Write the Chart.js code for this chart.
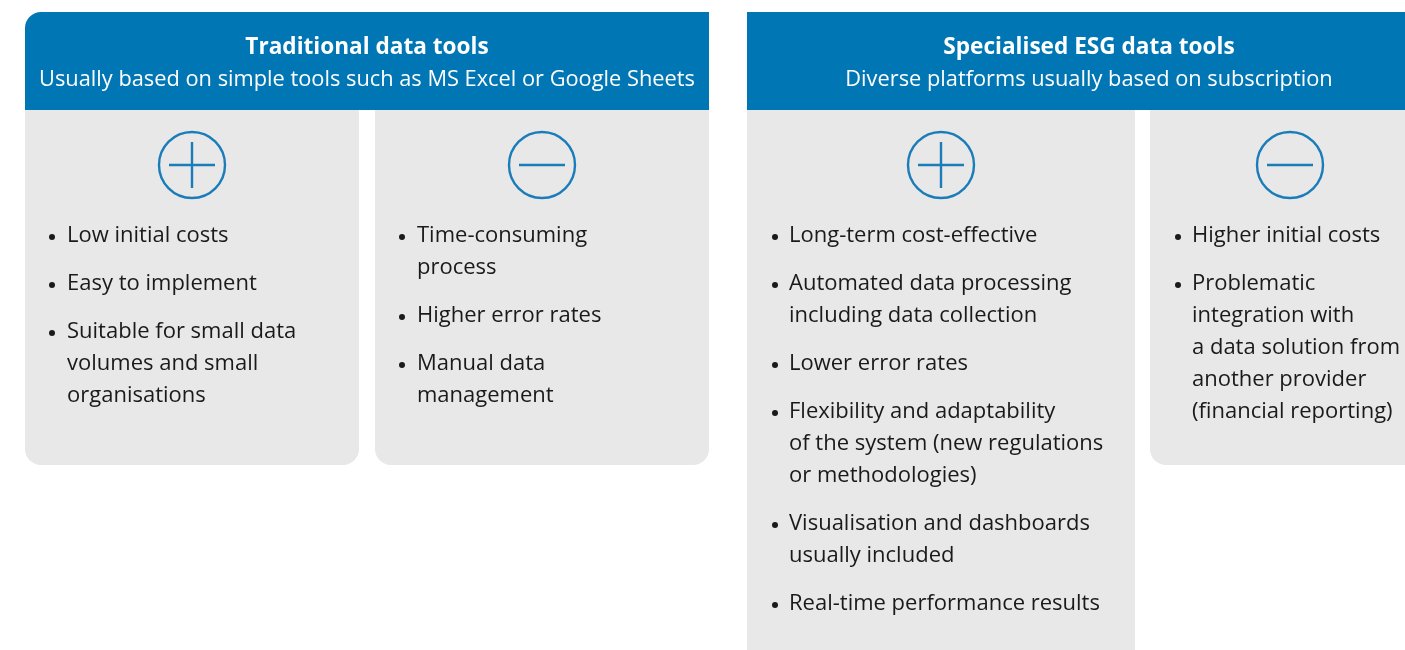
<!DOCTYPE html>
<html>
<head>
<meta charset="utf-8">
<script src="https://cdn.jsdelivr.net/npm/chart.js@4.4.1/dist/chart.umd.min.js"></script>
<style>
  html, body { margin: 0; padding: 0; background: #ffffff; }
  #wrap { position: relative; width: 1405px; height: 650px; }
</style>
</head>
<body>
<div id="wrap"><canvas id="c" aria-label="Traditional data tools vs Specialised ESG data tools"></canvas></div>
<script>
// ---- content ----
const groupTitles = ["Traditional data tools", "Specialised ESG data tools"];
const groupSubtitles = [
  "Usually based on simple tools such as MS Excel or Google Sheets",
  "Diverse platforms usually based on subscription"
];
const traditionalPros = [
  ["Low initial costs"],
  ["Easy to implement"],
  ["Suitable for small data", "volumes and small", "organisations"]
];
const traditionalCons = [
  ["Time-consuming", "process"],
  ["Higher error rates"],
  ["Manual data", "management"]
];
const esgPros = [
  ["Long-term cost-effective"],
  ["Automated data processing", "including data collection"],
  ["Lower error rates"],
  ["Flexibility and adaptability", "of the system (new regulations", "or methodologies)"],
  ["Visualisation and dashboards", "usually included"],
  ["Real-time performance results"]
];
const esgCons = [
  ["Higher initial costs"],
  ["Problematic", "integration with", "a data solution from", "another provider", "(financial reporting)"]
];

// ---- styles / layout ----
const BLUE = "#0077b4";
const ICON = "#1a7dba";
const GREY = "#e8e8e8";
const TEXT = "#1a1a1a";
const FONT = "'Open Sans', 'Noto Sans', sans-serif";

const headers = [
  { x: 25, y: 12, w: 684, h: 98, rtl: 16, cx: 367 },
  { x: 747, y: 12, w: 684, h: 98, rtl: 0, cx: 1089 }
];
const panels = [
  { x: 25, w: 334, bottom: 465, sign: "+", items: traditionalPros, bx: 52, tx: 67, ix: 192 },
  { x: 375, w: 334, bottom: 465, sign: "-", items: traditionalCons, bx: 402, tx: 417, ix: 542 },
  { x: 747, w: 388, bottom: 665, sign: "+", items: esgPros, bx: 775, tx: 789, ix: 941 },
  { x: 1150, w: 300, bottom: 465, sign: "-", items: esgCons, bx: 1178, tx: 1192, ix: 1290 }
];

function rr(ctx, x, y, w, h, r) {
  ctx.beginPath();
  ctx.moveTo(x + r.tl, y);
  ctx.lineTo(x + w - r.tr, y);
  ctx.arcTo(x + w, y, x + w, y + r.tr, r.tr);
  ctx.lineTo(x + w, y + h - r.br);
  ctx.arcTo(x + w, y + h, x + w - r.br, y + h, r.br);
  ctx.lineTo(x + r.bl, y + h);
  ctx.arcTo(x, y + h, x, y + h - r.bl, r.bl);
  ctx.lineTo(x, y + r.tl);
  ctx.arcTo(x, y, x + r.tl, y, r.tl);
  ctx.closePath();
}

const infographic = {
  id: "infographic",
  beforeDraw(chart) {
    const ctx = chart.ctx;
    ctx.save();
    ctx.fillStyle = "#ffffff";
    ctx.fillRect(0, 0, chart.width, chart.height);

    // grey panels
    panels.forEach(p => {
      ctx.fillStyle = GREY;
      rr(ctx, p.x, 100, p.w, p.bottom - 100, { tl: 0, tr: 0, br: 16, bl: 16 });
      ctx.fill();
    });

    // blue headers
    headers.forEach((h, i) => {
      ctx.fillStyle = BLUE;
      rr(ctx, h.x, h.y, h.w, h.h, { tl: h.rtl, tr: 0, br: 0, bl: 0 });
      ctx.fill();
      ctx.fillStyle = "#ffffff";
      ctx.textAlign = "center";
      ctx.textBaseline = "middle";
      ctx.font = "bold 22.6px " + FONT;
      ctx.fillText(groupTitles[i], h.cx, 48);
      ctx.font = "21.8px " + FONT;
      ctx.fillText(groupSubtitles[i], h.cx, 80);
    });

    // icons + bullet lists
    panels.forEach(p => {
      const cy = 165, r = 33;
      ctx.strokeStyle = ICON;
      ctx.lineWidth = 2.4;
      ctx.beginPath();
      ctx.arc(p.ix, cy, r, 0, Math.PI * 2);
      ctx.stroke();
      ctx.beginPath();
      ctx.moveTo(p.ix - 23, cy);
      ctx.lineTo(p.ix + 23, cy);
      if (p.sign === "+") {
        ctx.moveTo(p.ix, cy - 23);
        ctx.lineTo(p.ix, cy + 23);
      }
      ctx.stroke();

      ctx.fillStyle = TEXT;
      ctx.font = "22px " + FONT;
      ctx.textAlign = "left";
      ctx.textBaseline = "middle";
      let y = 236;
      p.items.forEach(lines => {
        ctx.beginPath();
        ctx.arc(p.bx, y + 1, 3, 0, Math.PI * 2);
        ctx.fill();
        lines.forEach((ln, k) => {
          ctx.fillText(ln, p.tx, y);
          if (k < lines.length - 1) y += 32;
        });
        y += 48;
      });
    });
    ctx.restore();
  }
};

function build() {
  new Chart(document.getElementById("c"), {
    type: "scatter",
    data: { datasets: [] },
    options: {
      responsive: true,
      maintainAspectRatio: false,
      animation: false,
      events: [],
      layout: { padding: 0 },
      plugins: { legend: { display: false }, tooltip: { enabled: false }, title: { display: false } },
      scales: { x: { display: false }, y: { display: false } }
    },
    plugins: [infographic]
  });
}
if (document.fonts && document.fonts.load) {
  Promise.all([
    document.fonts.load("22px 'Open Sans'"),
    document.fonts.load("bold 22px 'Open Sans'")
  ]).then(build, build);
} else {
  build();
}
</script>
</body>
</html>
